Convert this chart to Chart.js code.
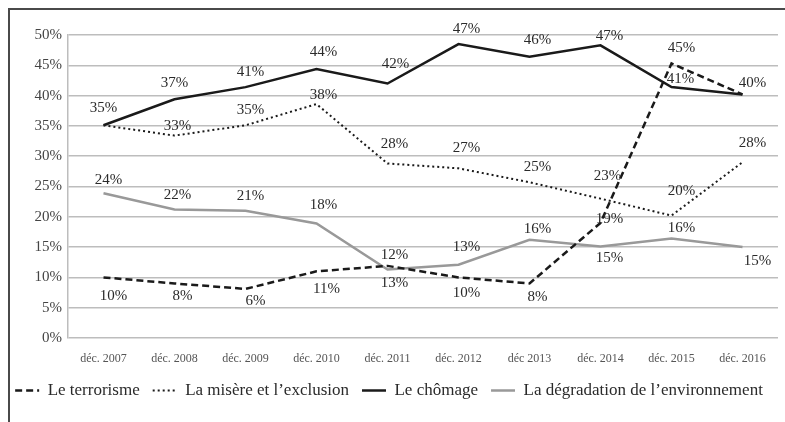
<!DOCTYPE html>
<html>
<head>
<meta charset="utf-8">
<script src="https://cdn.jsdelivr.net/npm/chart.js@4/dist/chart.umd.min.js"></script>
<style>
  html, body { margin: 0; padding: 0; background: #fff; }
  #frame { position: absolute; left: 8px; top: 8px; width: 800px; height: 430px;
           border-left: 2px solid #4a4a4a; border-top: 2px solid #4a4a4a; }
  #wrap { position: absolute; left: 0; top: 0; width: 785px; height: 422px; }
</style>
</head>
<body>
<div id="frame"></div>
<div id="wrap"><canvas id="canvas"></canvas></div>
<script>
// catégories et séries
var categories = ['déc. 2007', 'déc. 2008', 'déc. 2009', 'déc. 2010', 'déc. 2011',
                  'déc. 2012', 'déc 2013', 'déc. 2014', 'déc. 2015', 'déc. 2016'];
var terrorisme    = [10, 9, 8.1, 11, 11.9, 10, 9, 19, 45.3, 40.2];
var misere        = [35.1, 33.4, 35.1, 38.6, 28.8, 28, 25.7, 23, 20.2, 29];
var chomage       = [35.1, 39.4, 41.4, 44.4, 42, 48.5, 46.4, 48.3, 41.4, 40.2];
var environnement = [23.9, 21.2, 21, 18.9, 11.3, 12.1, 16.2, 15.1, 16.4, 15];

// étiquettes imprimées sur le graphique
var terrorismeLabels    = ['10%', '8%', '6%', '11%', '13%', '10%', '8%', '19%', '45%', ''];
var misereLabels        = ['', '33%', '35%', '38%', '28%', '27%', '25%', '23%', '20%', '28%'];
var chomageLabels       = ['35%', '37%', '41%', '44%', '42%', '47%', '46%', '47%', '41%', '40%'];
var environnementLabels = ['24%', '22%', '21%', '18%', '12%', '13%', '16%', '15%', '16%', '15%'];

var yTicks = [0, 5, 10, 15, 20, 25, 30, 35, 40, 45, 50];

// décalages des étiquettes (dx, dy) par série
var labelOffsets = [
  [[10,19],[8,13],[10,12],[10,18],[7,17],[8,16],[8,14],[9,-4],[10,-15],[0,0]],
  [[0,0],[3,-10],[5,-15],[7,-9],[7,-19],[8,-20],[8,-15],[7,-23],[10,-25],[10,-19]],
  [[0,-17],[0,-16],[5,-15],[7,-17],[8,-19],[8,-15],[8,-17],[9,-9],[9,-8],[10,-11]],
  [[5,-13],[3,-14],[5,-15],[7,-18],[7,-14],[8,-18],[8,-11],[9,12],[10,-11],[15,14]]
];

var pointLabels = {
  id: 'pointLabels',
  afterDatasetsDraw: function(chart) {
    var ctx = chart.ctx;
    ctx.save();
    ctx.font = '15px "Liberation Serif"';
    ctx.fillStyle = '#2a2a2a';
    ctx.textAlign = 'center';
    ctx.textBaseline = 'middle';
    chart.data.datasets.forEach(function(ds, i) {
      var meta = chart.getDatasetMeta(i);
      meta.data.forEach(function(pt, j) {
        var t = ds.valueLabels[j];
        if (!t) return;
        var off = labelOffsets[i][j];
        ctx.fillText(t, pt.x + off[0], pt.y + off[1]);
      });
    });
    ctx.restore();
  }
};

var config = {
  type: 'line',
  data: {
    labels: categories,
    datasets: [{
      label: 'Le terrorisme',
      data: terrorisme,
      valueLabels: terrorismeLabels,
      borderColor: '#1a1a1a',
      backgroundColor: '#1a1a1a',
      borderWidth: 2.5,
      borderDash: [7, 4]
    }, {
      label: 'La misère et l\u2019exclusion',
      data: misere,
      valueLabels: misereLabels,
      borderColor: '#1a1a1a',
      backgroundColor: '#1a1a1a',
      borderWidth: 2,
      borderDash: [2, 3]
    }, {
      label: 'Le chômage',
      data: chomage,
      valueLabels: chomageLabels,
      borderColor: '#1a1a1a',
      backgroundColor: '#1a1a1a',
      borderWidth: 2.5
    }, {
      label: 'La dégradation de l\u2019environnement',
      data: environnement,
      valueLabels: environnementLabels,
      borderColor: '#999999',
      backgroundColor: '#999999',
      borderWidth: 2.5
    }]
  },
  options: {
    responsive: true,
    maintainAspectRatio: false,
    animation: false,
    elements: { point: { radius: 0 }, line: { tension: 0 } },
    layout: { padding: { top: 35, left: 0, right: 7, bottom: 13 } },
    plugins: {
      tooltip: { enabled: false },
      legend: {
        position: 'bottom',
        labels: {
          usePointStyle: true,
          pointStyle: 'line',
          pointStyleWidth: 24,
          padding: 13,
          color: '#2a2a2a',
          font: { family: '"Liberation Serif"', size: 17 },
          generateLabels: function(chart) {
            var items = Chart.defaults.plugins.legend.labels.generateLabels(chart);
            items.forEach(function(it, i) {
              var ds = chart.data.datasets[i];
              it.lineDash = ds.borderDash || [];
              it.lineWidth = ds.borderWidth;
              it.strokeStyle = ds.borderColor;
              it.pointStyle = 'line';
            });
            return items;
          }
        }
      }
    },
    scales: {
      x: {
        offset: true,
        afterFit: function(axis) { axis.height = 31; },
        grid: { display: false },
        border: { display: false },
        ticks: { color: '#555', padding: 6, font: { family: '"Liberation Serif"', size: 12 } }
      },
      y: {
        min: 0,
        max: 50,
        afterFit: function(axis) { axis.width = 68; },
        afterBuildTicks: function(axis) { axis.ticks = yTicks.map(function(v) { return { value: v }; }); },
        grid: { color: '#bdbdbd', lineWidth: 1.5, drawTicks: false },
        border: { color: '#bdbdbd', width: 1.5 },
        ticks: {
          color: '#444',
          padding: 6,
          font: { family: '"Liberation Serif"', size: 15 },
          callback: function(v) { return v + '%'; }
        }
      }
    }
  },
  plugins: [pointLabels]
};

window.onload = function() {
  var ctx = document.getElementById('canvas').getContext('2d');
  window.myLine = new Chart(ctx, config);
};
</script>
</body>
</html>
